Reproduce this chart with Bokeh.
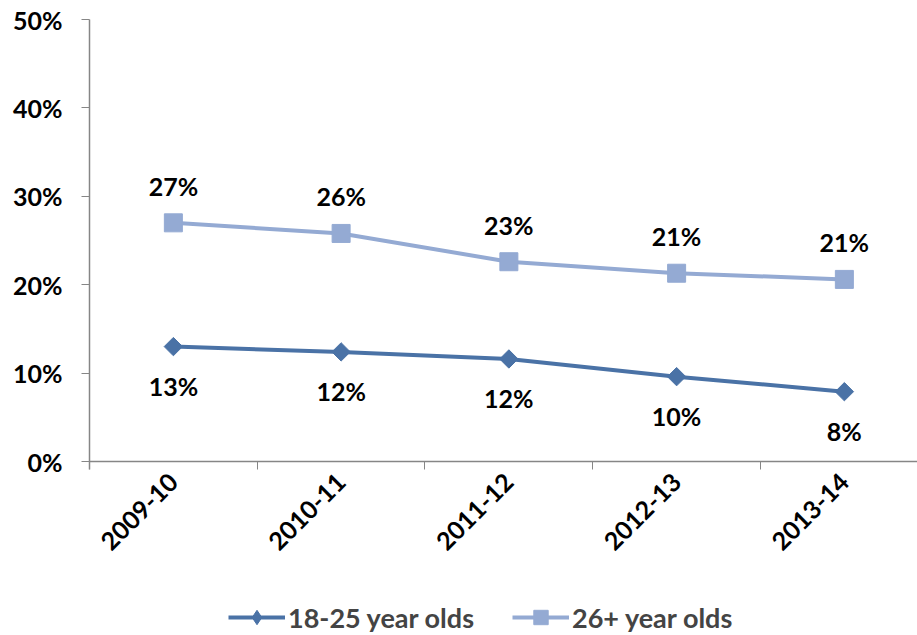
import numpy as np
from bokeh.plotting import figure
from bokeh.models import (ColumnDataSource, FixedTicker, NumeralTickFormatter,
                          Legend, LegendItem, Range1d)
from bokeh.core.properties import value
from bokeh.embed import file_html
from bokeh.resources import INLINE

categories = ["2009-10", "2010-11", "2011-12", "2012-13", "2013-14"]
young = [0.130, 0.124, 0.116, 0.096, 0.079]
older = [0.270, 0.258, 0.226, 0.213, 0.206]
y_ticks = [0.0, 0.1, 0.2, 0.3, 0.4, 0.5]
series_names = ["18-25 year olds", "26+ year olds"]

FONT = "Lato"
FS = "25px"
DARK = "#4A72A6"
LIGHT = "#94AAD3"

x = np.arange(len(categories))

# frame spans from y=19 to the bottom of the figure; 0..50% maps to 461..19
p = figure(width=917, height=635,
           min_border_left=89, min_border_right=0, min_border_top=19,
           min_border_bottom=0,
           x_range=Range1d(-0.5, 4.436), y_range=Range1d(-0.1968, 0.5),
           output_backend="svg", toolbar_location=None)
p.outline_line_color = None
p.xgrid.visible = False
p.ygrid.visible = False
p.background_fill_color = "white"

src1 = ColumnDataSource(dict(x=x, y=young, lab=["{:.0f}%".format(v * 100) for v in young]))
src2 = ColumnDataSource(dict(x=x, y=older, lab=["{:.0f}%".format(v * 100) for v in older]))

l1 = p.line("x", "y", source=src1, line_color=DARK, line_width=4)
# diamond glyph (used for the legend; covered by the rotated squares in the plot)
d1 = p.scatter("x", "y", source=src1, marker="diamond", size=13,
               fill_color=DARK, line_color=DARK)
m1 = p.scatter("x", "y", source=src1, marker="square", angle=np.pi / 4, size=13,
               fill_color=DARK, line_color=DARK)
l2 = p.line("x", "y", source=src2, line_color=LIGHT, line_width=4)
m2 = p.scatter("x", "y", source=src2, marker="square", size=18,
               fill_color=LIGHT, line_color=LIGHT)

p.text("x", "y", text="lab", source=src1, y_offset=39, text_align="center",
       text_baseline="middle", text_font=value(FONT), text_font_style="bold",
       text_font_size=FS, text_color="black")
p.text("x", "y", text="lab", source=src2, y_offset=-37, text_align="center",
       text_baseline="middle", text_font=value(FONT), text_font_style="bold",
       text_font_size=FS, text_color="black")

# axes
AX = "#868686"
xa = p.xaxis[0]
xa.fixed_location = 0
xa.ticker = FixedTicker(ticks=list(x), minor_ticks=list(np.arange(-0.5, 5.0, 1.0)))
xa.major_label_overrides = {int(i): c for i, c in zip(x, categories)}
xa.major_tick_line_color = None
xa.minor_tick_line_color = AX
xa.minor_tick_out = 8
xa.minor_tick_in = 0
xa.axis_line_color = AX
xa.axis_line_width = 1.5
xa.major_label_orientation = np.pi / 4
xa.major_label_text_font = FONT
xa.major_label_text_font_style = "bold"
xa.major_label_text_font_size = FS
xa.major_label_text_color = "black"
xa.major_label_standoff = 8

ya = p.yaxis[0]
ya.bounds = (-0.009, 0.5)
ya.ticker = FixedTicker(ticks=y_ticks)
ya.formatter = NumeralTickFormatter(format="0%")
ya.minor_tick_line_color = None
ya.major_tick_line_color = AX
ya.major_tick_out = 8
ya.major_tick_in = 0
ya.axis_line_color = AX
ya.axis_line_width = 1.5
ya.major_label_text_font = FONT
ya.major_label_text_font_style = "bold"
ya.major_label_text_font_size = FS
ya.major_label_text_color = "black"
ya.major_label_standoff = 19

legend = Legend(items=[LegendItem(label=series_names[0], renderers=[l1, d1]),
                       LegendItem(label=series_names[1], renderers=[l2, m2])],
                orientation="horizontal", location=(139, 0),
                label_text_font=FONT, label_text_font_style="bold",
                label_text_font_size="27px", glyph_width=57, glyph_height=36,
                label_height=36, spacing=38, label_standoff=3,
                border_line_color=None, background_fill_alpha=0,
                margin=0, padding=0)
p.add_layout(legend, "center")

open("out.html", "w").write(file_html(p, INLINE))
